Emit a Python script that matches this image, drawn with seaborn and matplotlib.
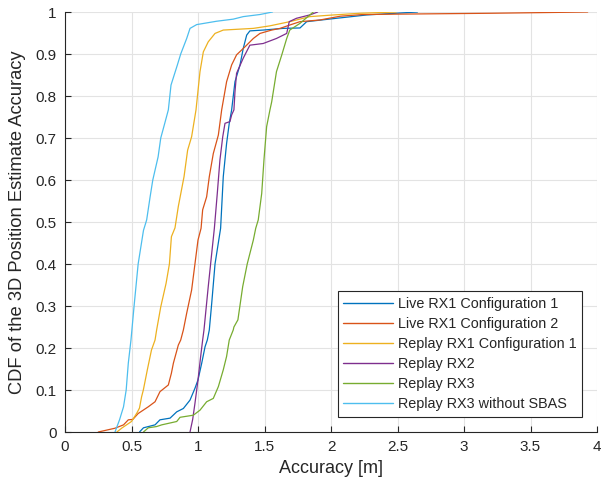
import numpy as np
import pandas as pd
import matplotlib
matplotlib.use("Agg")
import matplotlib.pyplot as plt
from matplotlib.ticker import FormatStrFormatter
import seaborn as sns

# traced CDF curves (accuracy in m, cumulative fraction)
live_rx1_c1_x = [0.56, 0.59, 0.677, 0.714, 0.79, 0.84, 0.89, 0.94, 0.977, 1.0, 1.028, 1.053, 1.07, 1.085,
                 1.103, 1.128, 1.17, 1.19, 1.215, 1.235, 1.253, 1.278, 1.316, 1.34, 1.366, 1.39, 1.49,
                 1.64, 1.767, 1.817, 2.04, 2.27, 2.65]
live_rx1_c1_y = [0.0, 0.01, 0.017, 0.029, 0.033, 0.048, 0.056, 0.076, 0.104, 0.124, 0.164, 0.203, 0.219, 0.243,
                 0.306, 0.40, 0.485, 0.608, 0.687, 0.735, 0.767, 0.834, 0.874, 0.913, 0.945, 0.955, 0.957,
                 0.961, 0.962, 0.977, 0.985, 0.993, 1.0]

live_rx1_c2_x = [0.25, 0.376, 0.44, 0.476, 0.51, 0.55, 0.626, 0.677, 0.714, 0.777, 0.80, 0.815, 0.852, 0.87,
                 0.89, 0.915, 0.952, 0.977, 1.0, 1.023, 1.035, 1.065, 1.085, 1.115, 1.153, 1.178, 1.215,
                 1.253, 1.29, 1.353, 1.416, 1.466, 1.554, 1.617, 1.69, 1.767, 1.917, 2.07, 2.24, 2.52,
                 3.2, 3.93]
live_rx1_c2_y = [0.0, 0.009, 0.017, 0.029, 0.03, 0.044, 0.06, 0.072, 0.096, 0.112, 0.14, 0.164, 0.207, 0.219,
                 0.243, 0.283, 0.338, 0.40, 0.457, 0.485, 0.529, 0.56, 0.608, 0.663, 0.707, 0.767, 0.834,
                 0.874, 0.898, 0.917, 0.937, 0.949, 0.957, 0.961, 0.969, 0.977, 0.981, 0.99, 0.994, 0.995,
                 0.997, 1.0]

replay_rx1_c1_x = [0.39, 0.43, 0.50, 0.54, 0.56, 0.576, 0.589, 0.619, 0.65, 0.677, 0.689, 0.72, 0.76, 0.785,
                   0.80, 0.827, 0.852, 0.895, 0.922, 0.952, 0.985, 1.015, 1.04, 1.077, 1.128, 1.19, 1.416,
                   1.54, 1.69, 1.84, 2.02, 2.22, 2.49]
replay_rx1_c1_y = [0.0, 0.01, 0.025, 0.045, 0.057, 0.084, 0.1, 0.148, 0.195, 0.219, 0.243, 0.298, 0.354, 0.40,
                   0.465, 0.486, 0.537, 0.608, 0.671, 0.703, 0.767, 0.858, 0.905, 0.929, 0.949, 0.957, 0.961,
                   0.967, 0.977, 0.989, 0.993, 0.997, 1.0]

replay_rx2_x = [0.94, 0.96, 0.977, 1.0, 1.02, 1.035, 1.045, 1.077, 1.103, 1.123, 1.145, 1.165, 1.186, 1.203,
                1.24, 1.253, 1.27, 1.278, 1.29, 1.34, 1.39, 1.49, 1.59, 1.667, 1.686, 1.74, 1.84, 1.90]
replay_rx2_y = [0.0, 0.03, 0.068, 0.124, 0.18, 0.219, 0.243, 0.346, 0.425, 0.485, 0.568, 0.648, 0.703, 0.735,
                0.739, 0.755, 0.767, 0.81, 0.854, 0.89, 0.921, 0.925, 0.937, 0.949, 0.977, 0.985, 0.993, 1.0]

replay_rx3_x = [0.59, 0.626, 0.689, 0.727, 0.84, 0.865, 0.965, 1.015, 1.065, 1.115, 1.153, 1.19, 1.215, 1.235,
                1.265, 1.27, 1.30, 1.336, 1.37, 1.416, 1.434, 1.453, 1.479, 1.496, 1.516, 1.541, 1.554, 1.59,
                1.63, 1.667, 1.69, 1.767, 1.867]
replay_rx3_y = [0.0, 0.01, 0.013, 0.017, 0.025, 0.035, 0.04, 0.052, 0.072, 0.08, 0.108, 0.148, 0.18, 0.219,
                0.243, 0.25, 0.267, 0.346, 0.40, 0.457, 0.485, 0.505, 0.568, 0.648, 0.727, 0.767, 0.786, 0.858,
                0.898, 0.937, 0.957, 0.973, 1.0]

replay_rx3_nosbas_x = [0.376, 0.41, 0.44, 0.46, 0.476, 0.496, 0.52, 0.55, 0.59, 0.614, 0.64, 0.66, 0.70, 0.72,
                       0.75, 0.777, 0.797, 0.845, 0.87, 0.915, 0.94, 0.99, 1.14, 1.265, 1.34, 1.466, 1.56]
replay_rx3_nosbas_y = [0.0, 0.029, 0.06, 0.1, 0.164, 0.219, 0.302, 0.40, 0.48, 0.505, 0.56, 0.60, 0.655, 0.70,
                       0.735, 0.767, 0.826, 0.874, 0.90, 0.937, 0.961, 0.97, 0.978, 0.983, 0.989, 0.994, 1.0]

labels = ["Live RX1 Configuration 1", "Live RX1 Configuration 2", "Replay RX1 Configuration 1",
          "Replay RX2", "Replay RX3", "Replay RX3 without SBAS"]
colors = ["#0072BD", "#D95319", "#EDB120", "#7E2F8E", "#77AC30", "#4DBEEE"]

curves = [(live_rx1_c1_x, live_rx1_c1_y), (live_rx1_c2_x, live_rx1_c2_y),
          (replay_rx1_c1_x, replay_rx1_c1_y), (replay_rx2_x, replay_rx2_y),
          (replay_rx3_x, replay_rx3_y), (replay_rx3_nosbas_x, replay_rx3_nosbas_y)]

frames = []
for i, (xs, ys) in enumerate(curves):
    frames.append(pd.DataFrame({"acc": xs, "cdf": ys, "series": labels[i]}))
df = pd.concat(frames, ignore_index=True)

sns.set_style("ticks")
plt.rcParams['font.family'] = ['Liberation Sans', 'DejaVu Sans']

fig = plt.figure(figsize=(6.08, 4.83), dpi=100)
ax = fig.add_axes([65 / 608, 51 / 483, 532 / 608, 420 / 483])

sns.lineplot(data=df, x="acc", y="cdf", hue="series", hue_order=labels, palette=colors,
             sort=False, estimator=None, units="series", linewidth=0.9, ax=ax)

ax.set_xlim(0, 4)
ax.set_ylim(0, 1)
ax.set_xticks(np.arange(0, 4.01, 0.5))
ax.set_yticks(np.arange(0, 1.01, 0.1))
ax.xaxis.set_major_formatter(FormatStrFormatter('%g'))
ax.yaxis.set_major_formatter(FormatStrFormatter('%g'))
ax.grid(True, color="#e3e3e3", linewidth=0.8)
ax.set_axisbelow(True)
ax.tick_params(direction="in", length=4, width=0.8, colors="#262626", labelsize=11, pad=6)
for s in ["top", "right"]:
    ax.spines[s].set_visible(False)
for s in ["left", "bottom"]:
    ax.spines[s].set_color("#262626")
    ax.spines[s].set_linewidth(0.8)

ax.set_xlabel("Accuracy [m]", fontsize=13, color="#262626", labelpad=4)
ax.set_ylabel("CDF of the 3D Position Estimate Accuracy", fontsize=13.2, color="#262626", labelpad=7)

leg = ax.legend(loc="lower right", bbox_to_anchor=(0.972, 0.036), borderaxespad=0,
                fontsize=10.4, handlelength=3.4, handletextpad=0.35, labelspacing=0.42,
                borderpad=0.4, fancybox=False, framealpha=1, edgecolor="#262626")
leg.get_frame().set_linewidth(0.8)
for line in leg.get_lines():
    line.set_linewidth(1.0)

fig.savefig("out.png", dpi=100)
